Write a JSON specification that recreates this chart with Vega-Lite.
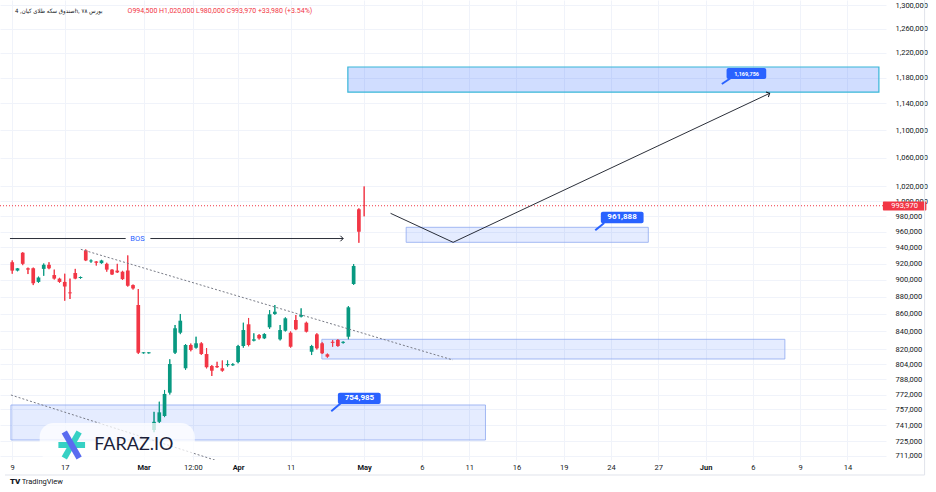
{
  "$schema": "https://vega.github.io/schema/vega-lite/v6.json",
  "width": 886,
  "height": 460,
  "autosize": {"type": "none"},
  "padding": {"left": 0, "top": 0, "right": 50, "bottom": 32},
  "background": "#ffffff",
  "config": {"view": {"stroke": null}, "font": "Roboto"},
  "datasets": {
    "candles": [
      {"i":0,"o":921600,"h":923800,"l":907500,"c":911300},
      {"i":1,"o":911300,"h":914500,"l":910500,"c":914100},
      {"i":2,"o":933400,"h":934000,"l":918000,"c":919600},
      {"i":3,"o":914100,"h":915000,"l":907100,"c":912500},
      {"i":4,"o":914100,"h":915000,"l":893800,"c":896100},
      {"i":5,"o":897600,"h":904000,"l":896500,"c":902900},
      {"i":6,"o":913400,"h":920000,"l":905000,"c":918400},
      {"i":7,"o":918400,"h":921600,"l":913000,"c":914100},
      {"i":8,"o":905900,"h":912500,"l":900500,"c":901600},
      {"i":9,"o":901600,"h":902500,"l":896500,"c":897600},
      {"i":10,"o":897600,"h":907500,"l":875300,"c":892100},
      {"i":11,"o":885100,"h":901600,"l":877300,"c":884000},
      {"i":12,"o":908400,"h":913400,"l":900900,"c":901600},
      {"i":13,"o":902300,"h":904000,"l":901500,"c":903500},
      {"i":14,"o":936300,"h":937500,"l":923000,"c":923800},
      {"i":15,"o":922600,"h":925000,"l":921000,"c":923700},
      {"i":16,"o":922500,"h":923000,"l":917500,"c":920900},
      {"i":17,"o":920400,"h":924500,"l":919800,"c":923800},
      {"i":18,"o":919600,"h":920900,"l":910000,"c":912500},
      {"i":19,"o":912500,"h":913000,"l":906000,"c":906600},
      {"i":20,"o":911300,"h":919600,"l":908400,"c":909100},
      {"i":21,"o":910000,"h":911000,"l":900000,"c":900900},
      {"i":22,"o":911300,"h":930000,"l":892000,"c":893000},
      {"i":23,"o":893800,"h":894500,"l":888500,"c":889800},
      {"i":24,"o":870300,"h":889100,"l":815000,"c":816400},
      {"i":25,"o":815800,"h":816900,"l":815500,"c":816900},
      {"i":26,"o":815800,"h":816900,"l":815500,"c":816900},
      {"i":27,"o":736200,"h":754300,"l":734000,"c":744300},
      {"i":28,"o":744300,"h":764600,"l":743000,"c":753800},
      {"i":29,"o":750100,"h":776700,"l":749000,"c":772600},
      {"i":30,"o":773900,"h":809300,"l":772000,"c":804200},
      {"i":31,"o":816400,"h":847300,"l":815000,"c":843600},
      {"i":32,"o":838600,"h":859900,"l":837000,"c":852200},
      {"i":33,"o":799600,"h":826000,"l":798000,"c":824900},
      {"i":34,"o":824900,"h":826500,"l":818000,"c":819400},
      {"i":35,"o":821900,"h":834100,"l":821000,"c":826800},
      {"i":36,"o":826800,"h":828000,"l":814000,"c":815000},
      {"i":37,"o":815000,"h":821600,"l":799500,"c":800700},
      {"i":38,"o":802000,"h":803000,"l":791400,"c":797000},
      {"i":39,"o":802000,"h":806600,"l":800000,"c":800700},
      {"i":40,"o":799600,"h":808000,"l":796000,"c":797000},
      {"i":41,"o":802900,"h":808000,"l":801400,"c":804200},
      {"i":42,"o":802800,"h":805000,"l":802300,"c":804000},
      {"i":43,"o":806300,"h":825000,"l":805000,"c":823800},
      {"i":44,"o":823800,"h":849900,"l":822000,"c":841600},
      {"i":45,"o":848100,"h":855300,"l":823500,"c":824900},
      {"i":46,"o":829700,"h":837900,"l":829000,"c":831200},
      {"i":47,"o":836000,"h":837000,"l":831000,"c":832300},
      {"i":48,"o":832300,"h":838000,"l":831500,"c":837100},
      {"i":49,"o":844700,"h":864400,"l":843000,"c":859500},
      {"i":50,"o":859900,"h":870300,"l":859000,"c":862500},
      {"i":51,"o":831200,"h":847300,"l":830000,"c":841600},
      {"i":52,"o":840800,"h":856000,"l":840000,"c":854900},
      {"i":53,"o":838600,"h":840000,"l":822000,"c":823000},
      {"i":54,"o":853000,"h":858700,"l":841500,"c":842400},
      {"i":55,"o":856800,"h":866400,"l":856000,"c":858700},
      {"i":56,"o":849900,"h":851000,"l":839000,"c":839700},
      {"i":57,"o":817500,"h":825000,"l":813900,"c":823800},
      {"i":58,"o":836800,"h":838000,"l":820000,"c":821300},
      {"i":59,"o":826800,"h":828000,"l":815000,"c":815800},
      {"i":60,"o":814700,"h":815500,"l":811000,"c":812100},
      {"i":61,"o":828500,"h":830500,"l":823000,"c":827300},
      {"i":62,"o":830500,"h":831500,"l":823000,"c":823800},
      {"i":63,"o":827300,"h":829000,"l":826500,"c":828400},
      {"i":64,"o":834100,"h":869100,"l":831200,"c":867600},
      {"i":65,"o":895100,"h":919400,"l":894000,"c":917000},
      {"i":66,"o":989300,"h":990500,"l":945900,"c":960000},
      {"i":67,"o":994500,"h":1020000,"l":980000,"c":993970}
    ],
    "zones": [
      {"kind":"target","i1":63.9,"i2":165.0,"p1":1196860,"p2":1157400},
      {"kind":"box","i1":75.0,"i2":121.1,"p1":965700,"p2":946470},
      {"kind":"box","i1":58.95,"i2":147.1,"p1":831220,"p2":809590},
      {"kind":"box","i1":-0.245,"i2":90.1,"p1":761240,"p2":726390}
    ],
    "trend": [
      {"id":"t1","i":13.06,"p":937670},{"id":"t1","i":83.9,"p":808510},
      {"id":"t2","i":-0.245,"p":771500},{"id":"t2","i":45.7,"p":695930}
    ],
    "paths": [
      {"id":"bos1","i":-0.43,"p":951300},{"id":"bos1","i":21.6,"p":951300},
      {"id":"bos2","i":26.3,"p":951300},{"id":"bos2","i":63.0,"p":951300},
      {"id":"proj","i":72.03,"p":983950},{"id":"proj","i":83.94,"p":946470},{"id":"proj","i":144.2,"p":1155400}
    ],
    "arrows": [
      {"i":63.0,"p":951300,"angle":0},
      {"i":144.2,"p":1155400,"angle":335}
    ],
    "callouts": [
      {"kind":"small","label":"1,169,756","i1":136.0,"i2":143.55,"p1":1195250,"p2":1177790,"ti":139.8,"tp":1186490},
      {"kind":"big","label":"961,888","i1":112.06,"i2":120.2,"p1":986080,"p2":970880,"ti":116.1,"tp":978460},
      {"kind":"big","label":"754,985","i1":62.0,"i2":70.15,"p1":773870,"p2":762260,"ti":66.1,"tp":768090}
    ],
    "pointers": [
      {"id":"a","i":135.1,"p":1169950},{"id":"a","i":137.1,"p":1180930},
      {"id":"b","i":111.0,"p":961888},{"id":"b","i":112.7,"p":971280},
      {"id":"c","i":60.74,"p":754985},{"id":"c","i":62.6,"p":763280}
    ],
    "tag": [
      {"i1":165.76,"i2":174.04,"p1":999620,"p2":987670,"ti":169.9,"tp":993970,"label":"993,970"}
    ],
    "asterisk": [
      {"id":"h","col":"teal","i":8.79,"p":721550},{"id":"h","col":"teal","i":13.87,"p":721550},
      {"id":"d1","col":"teal","i":9.92,"p":709100},{"id":"d1","col":"teal","i":12.74,"p":734210},
      {"id":"d2","col":"blue","i":9.92,"p":734210},{"id":"d2","col":"blue","i":12.74,"p":709100}
    ]
  },
  "layer": [
    {
      "data": {"name": "candles"},
      "mark": {"type": "rule", "strokeWidth": 1},
      "encoding": {
        "x": {"field": "i", "type": "quantitative",
          "scale": {"domain": [-1.374, 165.4], "nice": false, "zero": false},
          "axis": {"orient": "bottom", "title": null, "values": [0,10,25,34.4,43,53,67,78,87,96,105,114,123,132,141,150,159],
            "labelExpr": "datum.value == 0 ? '9' : datum.value == 10 ? '17' : datum.value == 25 ? 'Mar' : datum.value == 34.4 ? '12:00' : datum.value == 43 ? 'Apr' : datum.value == 53 ? '11' : datum.value == 67 ? 'May' : datum.value == 78 ? '6' : datum.value == 87 ? '11' : datum.value == 96 ? '16' : datum.value == 105 ? '19' : datum.value == 114 ? '24' : datum.value == 123 ? '27' : datum.value == 132 ? 'Jun' : datum.value == 141 ? '6' : datum.value == 150 ? '9' : '14'",
            "labelFontWeight": {"condition": {"test": "datum.value == 25 || datum.value == 43 || datum.value == 67 || datum.value == 132", "value": "bold"}, "value": "normal"},
            "grid": true, "gridColor": "#f0f3fa", "gridWidth": 1, "domain": false, "ticks": false,
            "labelFontSize": 7.5, "labelColor": "#131722", "labelPadding": 3, "labelFlush": false, "labelOverlap": false, "labelBound": false}},
        "y": {"field": "l", "type": "quantitative",
          "scale": {"type": "log", "domain": [707200, 1309180], "nice": false, "zero": false},
          "axis": {"orient": "right", "title": null, "values": [1300000,1260000,1220000,1180000,1140000,1100000,1060000,1020000,1000000,980000,960000,940000,920000,900000,880000,860000,840000,820000,804000,788000,772000,757000,741000,725000,711000],
            "format": ",d", "grid": true, "gridColor": "#f0f3fa", "gridWidth": 1, "domain": false, "ticks": false,
            "labelFontSize": 7.5, "labelColor": "#131722", "labelPadding": 9, "labelOverlap": false, "labelFlush": false, "labelBound": false}},
        "y2": {"field": "h"},
        "color": {"condition": {"test": "datum.c >= datum.o", "value": "#089981"}, "value": "#f23645"}
      }
    },
    {
      "data": {"name": "zones"},
      "transform": [{"filter": "datum.kind == 'box'"}],
      "mark": {"type": "rect", "fill": "#2962ff", "fillOpacity": 0.12, "stroke": "#8fa9f0", "strokeWidth": 1, "strokeOpacity": 0.8},
      "encoding": {
        "x": {"field": "i1", "type": "quantitative"}, "x2": {"field": "i2"},
        "y": {"field": "p1", "type": "quantitative"}, "y2": {"field": "p2"}
      }
    },
    {
      "data": {"name": "zones"},
      "transform": [{"filter": "datum.kind == 'target'"}],
      "mark": {"type": "rect", "fill": "#2962ff", "fillOpacity": 0.22, "stroke": "#37b6d8", "strokeWidth": 1.2},
      "encoding": {
        "x": {"field": "i1", "type": "quantitative"}, "x2": {"field": "i2"},
        "y": {"field": "p1", "type": "quantitative"}, "y2": {"field": "p2"}
      }
    },
    {
      "data": {"name": "candles"},
      "mark": {"type": "rule", "strokeWidth": 1},
      "encoding": {
        "x": {"field": "i", "type": "quantitative"},
        "y": {"field": "l", "type": "quantitative"}, "y2": {"field": "h"},
        "color": {"condition": {"test": "datum.c >= datum.o", "value": "#089981"}, "value": "#f23645"}
      }
    },
    {
      "data": {"name": "candles"},
      "mark": {"type": "bar", "width": 3.7},
      "encoding": {
        "x": {"field": "i", "type": "quantitative"},
        "y": {"field": "o", "type": "quantitative"}, "y2": {"field": "c"},
        "color": {"condition": {"test": "datum.c >= datum.o", "value": "#089981"}, "value": "#f23645"}
      }
    },
    {
      "data": {"values": [{"p": 993970}]},
      "mark": {"type": "rule", "color": "#f23645", "strokeWidth": 1, "strokeDash": [1, 2]},
      "encoding": {"y": {"field": "p", "type": "quantitative"}}
    },
    {
      "data": {"name": "trend"},
      "mark": {"type": "line", "color": "#787b86", "strokeWidth": 1, "strokeDash": [2, 2], "clip": true},
      "encoding": {
        "x": {"field": "i", "type": "quantitative"},
        "y": {"field": "p", "type": "quantitative"},
        "detail": {"field": "id"}
      }
    },
    {
      "data": {"name": "paths"},
      "mark": {"type": "line", "color": "#131722", "strokeWidth": 0.9},
      "encoding": {
        "x": {"field": "i", "type": "quantitative"},
        "y": {"field": "p", "type": "quantitative"},
        "detail": {"field": "id"}
      }
    },
    {
      "data": {"name": "arrows"},
      "mark": {"type": "point", "shape": "M-1,-1L0,0L-1,1", "filled": false, "stroke": "#131722", "strokeWidth": 1, "size": 30, "opacity": 1},
      "encoding": {
        "x": {"field": "i", "type": "quantitative"},
        "y": {"field": "p", "type": "quantitative"},
        "angle": {"field": "angle", "type": "quantitative", "scale": null}
      }
    },
    {
      "data": {"values": [{"i": 23.85, "p": 951300, "t": "BOS"}]},
      "mark": {"type": "text", "color": "#2962ff", "fontSize": 7.5, "align": "center", "baseline": "middle"},
      "encoding": {
        "x": {"field": "i", "type": "quantitative"},
        "y": {"field": "p", "type": "quantitative"},
        "text": {"field": "t"}
      }
    },
    {
      "data": {"name": "pointers"},
      "mark": {"type": "line", "color": "#2962ff", "strokeWidth": 2},
      "encoding": {
        "x": {"field": "i", "type": "quantitative"},
        "y": {"field": "p", "type": "quantitative"},
        "detail": {"field": "id"}
      }
    },
    {
      "data": {"name": "callouts"},
      "mark": {"type": "rect", "fill": "#2962ff", "cornerRadius": 2},
      "encoding": {
        "x": {"field": "i1", "type": "quantitative"}, "x2": {"field": "i2"},
        "y": {"field": "p1", "type": "quantitative"}, "y2": {"field": "p2"}
      }
    },
    {
      "data": {"name": "callouts"},
      "transform": [{"filter": "datum.kind == 'big'"}],
      "mark": {"type": "text", "color": "#ffffff", "fontSize": 8, "fontWeight": "bold", "align": "center", "baseline": "middle"},
      "encoding": {
        "x": {"field": "ti", "type": "quantitative"},
        "y": {"field": "tp", "type": "quantitative"},
        "text": {"field": "label"}
      }
    },
    {
      "data": {"name": "callouts"},
      "transform": [{"filter": "datum.kind == 'small'"}],
      "mark": {"type": "text", "color": "#ffffff", "fontSize": 5.5, "fontWeight": "bold", "align": "center", "baseline": "middle"},
      "encoding": {
        "x": {"field": "ti", "type": "quantitative"},
        "y": {"field": "tp", "type": "quantitative"},
        "text": {"field": "label"}
      }
    },
    {
      "data": {"name": "tag"},
      "mark": {"type": "rect", "fill": "#f23645", "cornerRadius": 1},
      "encoding": {
        "x": {"field": "i1", "type": "quantitative"}, "x2": {"field": "i2"},
        "y": {"field": "p1", "type": "quantitative"}, "y2": {"field": "p2"}
      }
    },
    {
      "data": {"name": "tag"},
      "mark": {"type": "text", "color": "#ffffff", "fontSize": 7.5, "align": "center", "baseline": "middle"},
      "encoding": {
        "x": {"field": "ti", "type": "quantitative"},
        "y": {"field": "tp", "type": "quantitative"},
        "text": {"field": "label"}
      }
    },
    {
      "data": {"values": [{"i1": 5.22, "i2": 34.76, "p1": 743120, "p2": 705320}]},
      "mark": {"type": "rect", "fill": "#ffffff", "fillOpacity": 0.75, "cornerRadius": 14},
      "encoding": {
        "x": {"field": "i1", "type": "quantitative"}, "x2": {"field": "i2"},
        "y": {"field": "p1", "type": "quantitative"}, "y2": {"field": "p2"}
      }
    },
    {
      "data": {"name": "asterisk"},
      "mark": {"type": "line", "strokeWidth": 6, "strokeCap": "butt"},
      "encoding": {
        "x": {"field": "i", "type": "quantitative"},
        "y": {"field": "p", "type": "quantitative"},
        "detail": {"field": "id"},
        "color": {"field": "col", "type": "nominal", "scale": {"domain": ["teal", "blue"], "range": ["#36d1c4", "#5a6cf0"]}, "legend": null}
      }
    },
    {
      "data": {"values": [{"i": 15.6, "p": 721550, "t": "FARAZ.IO"}]},
      "mark": {"type": "text", "color": "#1c1f3a", "fontSize": 18, "font": "Lato", "align": "left", "baseline": "middle"},
      "encoding": {
        "x": {"field": "i", "type": "quantitative"},
        "y": {"field": "p", "type": "quantitative"},
        "text": {"field": "t"}
      }
    },
    {
      "data": {"values": [{"i": 0.51, "p": 1290050, "t": "صندوق سکه طلای کیان, 4h, بورس ۷۸"}]},
      "mark": {"type": "text", "color": "#131722", "fontSize": 6, "font": "DejaVu Sans Condensed, DejaVu Sans", "align": "left", "baseline": "middle"},
      "encoding": {
        "x": {"field": "i", "type": "quantitative"},
        "y": {"field": "p", "type": "quantitative"},
        "text": {"field": "t"}
      }
    },
    {
      "data": {"values": [{"i": 21.96, "p": 1290050, "t": "O994,500  H1,020,000  L980,000  C993,970  +33,980 (+3.54%)"}]},
      "mark": {"type": "text", "color": "#f23645", "fontSize": 7, "align": "left", "baseline": "middle"},
      "encoding": {
        "x": {"field": "i", "type": "quantitative"},
        "y": {"field": "p", "type": "quantitative"},
        "text": {"field": "t"}
      }
    },
    {
      "data": {"values": [{"i": -1.374, "i2": 173.7, "p": 693150}]},
      "mark": {"type": "rule", "color": "#e0e3eb", "strokeWidth": 1},
      "encoding": {
        "x": {"field": "i", "type": "quantitative"}, "x2": {"field": "i2"},
        "y": {"field": "p", "type": "quantitative"}
      }
    },
    {
      "data": {"values": [{"i": 173.7, "p": 1309180, "p2": 693150}]},
      "mark": {"type": "rule", "color": "#e0e3eb", "strokeWidth": 1},
      "encoding": {
        "x": {"field": "i", "type": "quantitative"},
        "y": {"field": "p", "type": "quantitative"}, "y2": {"field": "p2"}
      }
    },
    {
      "data": {"values": [{"i": -0.43, "p": 686680, "t": "TV"}]},
      "mark": {"type": "text", "color": "#131722", "fontSize": 8, "fontWeight": 900, "align": "left", "baseline": "middle"},
      "encoding": {
        "x": {"field": "i", "type": "quantitative"},
        "y": {"field": "p", "type": "quantitative"},
        "text": {"field": "t"}
      }
    },
    {
      "data": {"values": [{"i": 1.8, "p": 686680, "t": "TradingView"}]},
      "mark": {"type": "text", "color": "#131722", "fontSize": 7.5, "align": "left", "baseline": "middle"},
      "encoding": {
        "x": {"field": "i", "type": "quantitative"},
        "y": {"field": "p", "type": "quantitative"},
        "text": {"field": "t"}
      }
    }
  ]
}
